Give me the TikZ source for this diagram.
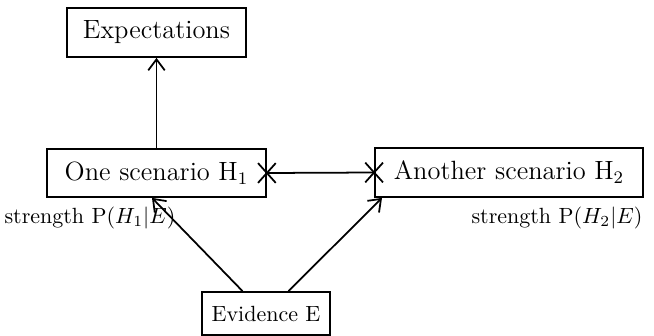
\documentclass[tikz,border=0pt]{standalone}
\usetikzlibrary{arrows.meta,shapes.misc,calc}
\tikzset{
  box/.style={draw,line width=0.8pt,inner sep=0pt},
  bigbox/.style={box,font=\large},
  tip/.style={-{Straight Barb[length=5pt,width=7.5pt]}},
  xmark/.style={cross out,draw,minimum width=16*0.4545pt,minimum height=18*0.4545pt,inner sep=0pt}
}
\begin{document}
\begin{tikzpicture}[x=0.4545pt,y=-0.4545pt,line width=0.8pt]
			\useasboundingbox (0,0) rectangle (654,336);

			\node (exp) at (156.5,32.5)[bigbox,minimum width=179*0.4545pt,minimum height=49*0.4545pt]{Expectations};
			\node (one) at (156.5,173)[bigbox,minimum width=219*0.4545pt,minimum height=48*0.4545pt]{One scenario H$_1$};
			\node (two) at (509,172.5)[bigbox,minimum width=268*0.4545pt,minimum height=49*0.4545pt]{Another scenario H$_2$};
			\node (ev) at (266,313.5)[box,minimum width=128*0.4545pt,minimum height=43*0.4545pt]{Evidence E};

			\draw[tip] (one) -- (exp);
			\draw (one.east) -- (two.west);
			\node (xone) at (one.east)[xmark]{};
			\node (xtwo) at (two.west)[xmark]{};

			\coordinate (evl) at ($(ev.north)+(-23.5,0)$);
			\coordinate (evr) at ($(ev.north)+(22.5,0)$);
			\draw[tip] (evl) -- (152,0 |- one.south);
			\draw[tip] (evr) -- (382,0 |- two.south);

			\draw (90,218) node (lone){strength P$(H_1|E)$};
			\draw (557,218) node (ltwo){strength P$(H_2|E)$};
\end{tikzpicture}
\end{document}
